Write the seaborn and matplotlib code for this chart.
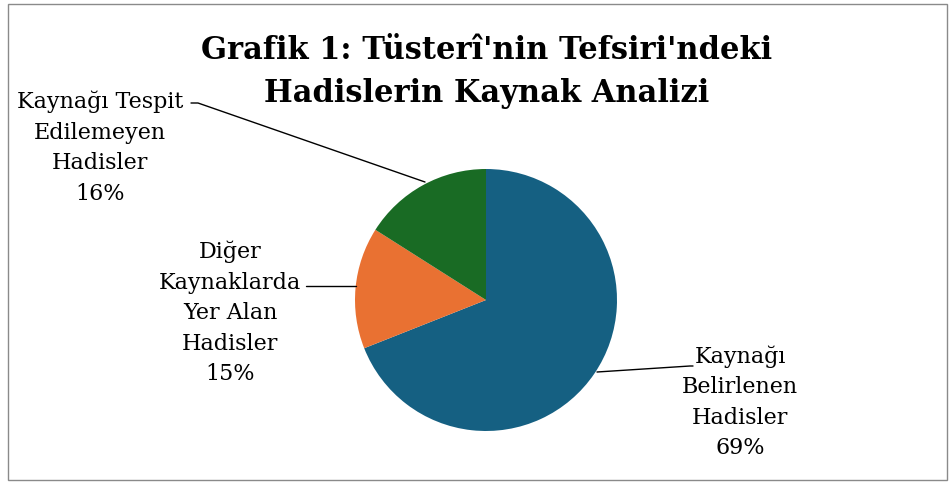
import matplotlib
matplotlib.use("Agg")
import matplotlib.pyplot as plt
import seaborn as sns
from matplotlib.patches import Rectangle

sns.set_theme(style="white")
plt.rcParams['font.family'] = ['DejaVu Serif']
plt.rcParams['text.color'] = 'black'

categories = ["Kaynağı\nBelirlenen\nHadisler", "Diğer\nKaynaklarda\nYer Alan\nHadisler", "Kaynağı Tespit\nEdilemeyen\nHadisler"]
values = [69, 15, 16]
colors = ["#156082", "#E97132", "#196B24"]
title = "Grafik 1: Tüsterî'nin Tefsiri'ndeki\nHadislerin Kaynak Analizi"

W, H = 953, 482
cx, cy, R = 486, 300, 131
fig = plt.figure(figsize=(W / 100, H / 100), dpi=100)
ax = fig.add_axes([0, 0, 1, 1])

ax.pie(values, colors=colors, startangle=90, counterclock=False, radius=1,
       center=(0, 0), frame=True, wedgeprops=dict(linewidth=0))
ax.set_xlim(-cx / R, (W - cx) / R)
ax.set_ylim(-(H - cy) / R, cy / R)
ax.set_aspect("auto")
ax.axis("off")

def px(x, y):
    return ((x - cx) / R, (cy - y) / R)

total = sum(values)
labels = [f"{c}\n{round(v * 100 / total)}%" for c, v in zip(categories, values)]
fs = 16
ls = 1.5
# label 1
ax.text(*px(740, 402), labels[0], ha="center", va="center", fontsize=fs, linespacing=ls, color="black")
ax.plot(*zip(px(597, 372), px(690, 366), px(693, 366)), color="black", lw=1)
# label 2
ax.text(*px(230, 313), labels[1], ha="center", va="center", fontsize=fs, linespacing=ls, color="black")
ax.plot(*zip(px(306, 286), px(356, 286)), color="black", lw=1)
# label 3
ax.text(*px(100, 148), labels[2], ha="center", va="center", fontsize=fs, linespacing=ls, color="black")
ax.plot(*zip(px(191, 103), px(198, 103), px(425, 182)), color="black", lw=1)

fig.text(487 / W, 1 - 72 / H, title, ha="center", va="center", fontsize=22,
         fontweight="bold", linespacing=1.5, color="black")

fig.patches.append(Rectangle((8 / W, 2 / H), 939 / W, 476 / H, transform=fig.transFigure,
                             fill=False, edgecolor="#8a8a8a", lw=1))

fig.savefig("out.png", dpi=100, facecolor="white")
